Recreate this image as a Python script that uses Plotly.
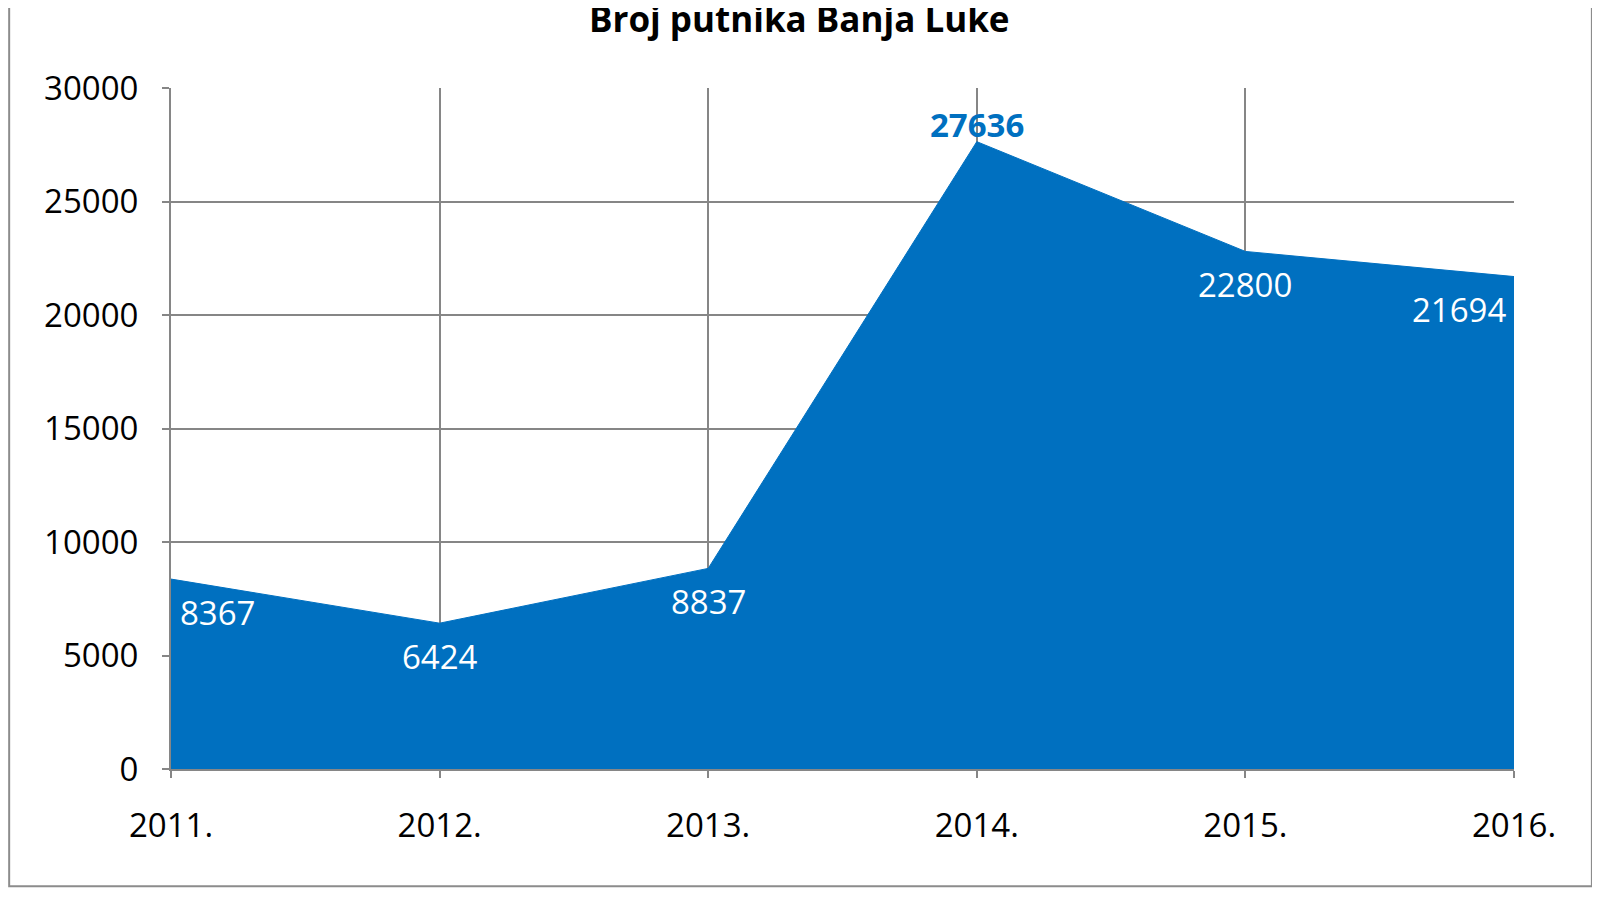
import plotly.graph_objects as go

years = ["2011.", "2012.", "2013.", "2014.", "2015.", "2016."]
passengers = [8367, 6424, 8837, 27636, 22800, 21694]
y_ticks = [0, 5000, 10000, 15000, 20000, 25000, 30000]

BLUE = "#0070C0"
GRID = "#868686"
FONT = "Open Sans"

fig = go.Figure(go.Scatter(
    x=years, y=passengers,
    mode="lines",
    line=dict(color=BLUE, width=1),
    fill="tozeroy",
    fillcolor=BLUE,
    hoverinfo="x+y",
))

# data labels, Excel style: white inside the area, the peak in bold blue above it
last = len(years) - 1
for i, v in enumerate(passengers):
    top = v == max(passengers)
    xanchor = "left" if i == 0 else ("right" if i == last else "center")
    fig.add_annotation(
        x=i, y=v, xref="x", yref="y",
        text=f"<b>{v}</b>" if top else str(v),
        showarrow=False,
        xanchor=xanchor, yanchor="middle",
        xshift=7 if i == 0 else (-6 if i == last else 0),
        yshift=17 if top else -33,
        font=dict(family=FONT, size=33, color=BLUE if top else "white"),
    )

fig.add_annotation(
    x=0.468, y=1.0, xref="paper", yref="paper", yshift=70,
    text="<b>Broj putnika Banja Luke</b>", showarrow=False,
    xanchor="center", yanchor="middle",
    font=dict(family=FONT, size=35, color="black"),
)

# outer chart border
fig.add_shape(
    type="rect", xref="paper", yref="paper",
    x0=-0.1205, x1=1.058,
    y0=-0.172, y1=1.2,
    line=dict(color="#8c8c8c", width=2),
)

fig.update_layout(
    width=1600, height=900,
    margin=dict(l=163, r=94, t=80, b=139),
    paper_bgcolor="white", plot_bgcolor="white",
    showlegend=False,
    font=dict(family=FONT, size=33, color="black"),
    xaxis=dict(
        type="category", range=[0, last],
        showgrid=True, gridcolor=GRID, gridwidth=2,
        showline=True, linecolor=GRID, linewidth=2,
        ticks="outside", ticklen=7, tickcolor=GRID, tickwidth=2,
        ticklabelstandoff=19,
        tickfont=dict(family=FONT, size=33),
        zeroline=False,
    ),
    yaxis=dict(
        range=[0, 30000], tickvals=y_ticks, ticktext=[str(t) for t in y_ticks],
        showgrid=True, gridcolor=GRID, gridwidth=2,
        showline=True, linecolor=GRID, linewidth=2,
        ticks="outside", ticklen=7, tickcolor=GRID, tickwidth=2,
        ticklabelstandoff=17,
        tickfont=dict(family=FONT, size=33),
        zeroline=False,
    ),
)

fig.write_html("out.html")
